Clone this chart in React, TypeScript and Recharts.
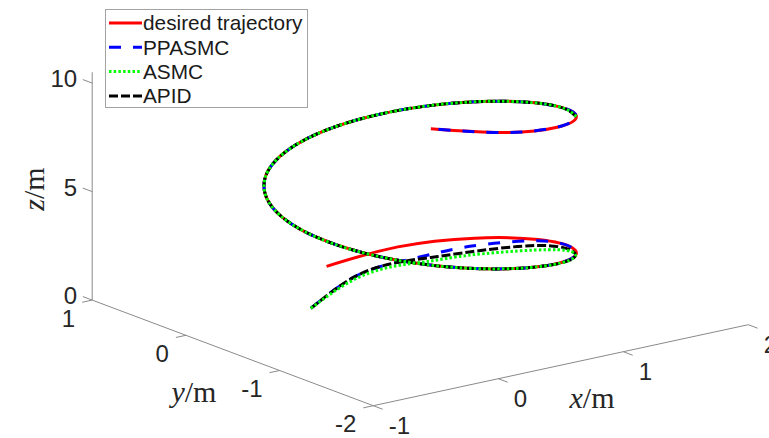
import React from 'react';
import { ComposedChart, Line, Scatter, XAxis, YAxis, ReferenceLine, Legend } from 'recharts';

// reference helix, one sample every 0.5 (t = 0 ... 10)
const desiredX = [0.5, 0.979, 1.341, 1.497, 1.409, 1.098, 0.641, 0.149, -0.257, -0.478, -0.459, -0.206, 0.221, 0.715, 1.157, 1.438, 1.489, 1.298, 0.912, 0.425, -0.044];
const desiredY = [0.5, 0.378, 0.04, -0.429, -0.916, -1.301, -1.49, -1.436, -1.154, -0.711, -0.216, 0.209, 0.46, 0.477, 0.254, -0.153, -0.646, -1.102, -1.411, -1.497, -1.339];
const desiredZ = [0.5, 1, 1.5, 2, 2.5, 3, 3.5, 4, 4.5, 5, 5.5, 6, 6.5, 7, 7.5, 8, 8.5, 9, 9.5, 10, 10.5];

// start-up transients at t = 0, 0.25, 0.5, 0.75, 1, 1.5 (2, 2.5); afterwards they sit on the reference
const ppasmcX = [0, 0.472, 0.779, 1.027, 1.246, 1.482];
const ppasmcY = [0, 0.194, 0.178, 0.077, -0.055, -0.444];
const ppasmcZ = [0, 0.475, 0.8, 1.095, 1.405, 1.985];

const asmcX = [0, 0.437, 0.739, 0.942, 1.136, 1.372, 1.369, 1.088];
const asmcY = [0, 0.159, 0.138, -0.008, -0.165, -0.554, -0.956, -1.311];
const asmcZ = [0, 0.44, 0.76, 1.01, 1.295, 1.875, 2.46, 2.99];

const apidX = [0, 0.472, 0.779, 0.987, 1.176, 1.427, 1.379, 1.088];
const apidY = [0, 0.194, 0.178, 0.037, -0.125, -0.499, -0.946, -1.311];
const apidZ = [0, 0.475, 0.8, 1.055, 1.335, 1.93, 2.47, 2.99];

// index into desired* where each run joins the reference, and where ASMC / APID stop
const ppasmcJoin = 4;
const asmcJoin = 6;
const apidJoin = 6;
const trackEnd = 17;

const xLim = [-1, 2];
const yLim = [-2, 1];
const zLim = [0, 10.5];
const xTicks = [-1, 0, 1, 2];
const yTicks = [-2, -1, 0, 1];
const zTicks = [0, 5, 10];

// 3-D view flattened onto the page plane (u to the right, v up), per data unit
const VIEW = { ex: [125, 27], ey: [-93.7, 35.2], ez: [0, 21.7] };
const ORIGIN = { left: 310.9, top: 308.3 };
const W = 769;
const H = 438;

const project = (x: number, y: number, z: number) => ({
  u: VIEW.ex[0] * x + VIEW.ey[0] * y + VIEW.ez[0] * z,
  v: VIEW.ex[1] * x + VIEW.ey[1] * y + VIEW.ez[1] * z,
});

const toPoints = (xs: number[], ys: number[], zs: number[]) => xs.map((x, i) => project(x, ys[i], zs[i]));

const desired = toPoints(desiredX, desiredY, desiredZ);
const ppasmc = [...toPoints(ppasmcX, ppasmcY, ppasmcZ), ...desired.slice(ppasmcJoin)];
const asmc = [...toPoints(asmcX, asmcY, asmcZ), ...desired.slice(asmcJoin, trackEnd + 1)];
const apid = [...toPoints(apidX, apidY, apidZ), ...desired.slice(apidJoin, trackEnd + 1)];

const series = [
  { name: 'desired trajectory', data: desired, color: '#ff0000', dash: undefined as string | undefined },
  { name: 'PPASMC', data: ppasmc, color: '#0000ff', dash: '12 12' },
  { name: 'ASMC', data: asmc, color: '#00ff00', dash: '2.5 2.2' },
  { name: 'APID', data: apid, color: '#000000', dash: '9 3' },
];
const drawOrder = [0, 1, 3, 2];
const LW = 3;

const seg = (a: number[], b: number[]) => {
  const p = project(a[0], a[1], a[2]);
  const q = project(b[0], b[1], b[2]);
  return [{ x: p.u, y: p.v }, { x: q.u, y: q.v }];
};

const TICK = { x: 0.1, y: 0.08, z: 0.1 };
const axisSegments = [
  seg([xLim[0], yLim[0], 0], [xLim[1], yLim[0], 0]),
  seg([xLim[0], yLim[0], 0], [xLim[0], yLim[1], 0]),
  seg([xLim[0], yLim[1], zLim[0]], [xLim[0], yLim[1], zLim[1]]),
  ...xTicks.map((t) => seg([t, yLim[0], 0], [t, yLim[0] - TICK.x, 0])),
  ...yTicks.map((t) => seg([xLim[0], t, 0], [xLim[0] - TICK.y, t, 0])),
  ...zTicks.map((t) => seg([xLim[0], yLim[1], t], [xLim[0], yLim[1] + TICK.z, t])),
];

const labels = [
  ...xTicks.map((t) => ({ ...project(t, yLim[0], 0), text: String(t), kind: 'x' })),
  ...yTicks.map((t) => ({ ...project(xLim[0], t, 0), text: String(t), kind: 'y' })),
  ...zTicks.map((t) => ({ ...project(xLim[0], yLim[1], t), text: String(t), kind: 'z' })),
  { ...project(0.5, yLim[0], 0), text: 'x', kind: 'xTitle' },
  { ...project(xLim[0], -0.5, 0), text: 'y', kind: 'yTitle' },
  { ...project(xLim[0], yLim[1], 5.25), text: 'z', kind: 'zTitle' },
];

const LABEL_STYLE: Record<string, { anchor: string; dx: number; dy: number }> = {
  x: { anchor: 'start', dx: 15.5, dy: 28.5 },
  y: { anchor: 'end', dx: -17, dy: 26.4 },
  z: { anchor: 'end', dx: -15, dy: 4 },
  xTitle: { anchor: 'middle', dx: 31.2, dy: 42.8 },
  yTitle: { anchor: 'middle', dx: -38.8, dy: 49.1 },
  zTitle: { anchor: 'middle', dx: -48.2, dy: 2.8 },
};

const SANS = "'Liberation Sans', Arial, Helvetica, sans-serif";
const SERIF = "'Liberation Serif', 'Times New Roman', serif";

const renderLabel = (props: any) => {
  const { cx, cy, payload } = props;
  const st = LABEL_STYLE[payload.kind];
  const x = cx + st.dx;
  const y = cy + st.dy;
  if (payload.kind.endsWith('Title')) {
    return (
      <text
        x={x}
        y={y}
        textAnchor="middle"
        fontFamily={SERIF}
        fontSize={30}
        fill="#262626"
        transform={payload.kind === 'zTitle' ? `rotate(-90, ${x}, ${y})` : undefined}
      >
        <tspan fontStyle="italic">{payload.text}</tspan>/m
      </text>
    );
  }
  return (
    <text x={x} y={y} textAnchor={st.anchor as any} fontFamily={SANS} fontSize={24} fill="#262626">
      {payload.text}
    </text>
  );
};

const LegendBox = () => (
  <svg width={203} height={99} style={{ display: 'block' }}>
    <rect x={0.5} y={0.5} width={202} height={98} fill="#fff" stroke="#a3a3a3" />
    {series.map((s, i) => {
      const yy = 14 + i * 24.3;
      return (
        <g key={s.name}>
          <line x1={4} x2={37} y1={yy} y2={yy} stroke={s.color} strokeWidth={LW} strokeDasharray={s.dash} />
          <text x={38} y={yy + 7.3} fontSize={20.8} fontFamily={SANS} fill="#1a1a1a">
            {s.name}
          </text>
        </g>
      );
    })}
  </svg>
);

export default function App() {
  return (
    <div style={{ position: 'absolute', left: 0, top: 0, width: W, height: H, background: '#fff' }}>
      <ComposedChart width={W} height={H} margin={{ top: 0, right: 0, bottom: 0, left: 0 }}>
        <XAxis type="number" dataKey="u" domain={[-ORIGIN.left, W - ORIGIN.left]} hide allowDataOverflow />
        <YAxis type="number" dataKey="v" domain={[ORIGIN.top - H, ORIGIN.top]} hide allowDataOverflow />
        {axisSegments.map((s, i) => (
          <ReferenceLine key={'axis' + i} segment={s} stroke="#8a8a8a" strokeWidth={1} ifOverflow="visible" />
        ))}
        {drawOrder.map((i) => {
          const s = series[i];
          return (
            <Line
              key={s.name}
              name={s.name}
              data={s.data}
              dataKey="v"
              type="natural"
              stroke={s.color}
              strokeWidth={LW}
              strokeDasharray={s.dash}
              dot={false}
              activeDot={false}
              isAnimationActive={false}
            />
          );
        })}
        <Scatter data={labels} shape={renderLabel} isAnimationActive={false} legendType="none" />
        <Legend
          layout="vertical"
          align="center"
          verticalAlign="middle"
          wrapperStyle={{ left: 105, top: 9, width: 203, height: 99 }}
          content={() => <LegendBox />}
        />
      </ComposedChart>
    </div>
  );
}
